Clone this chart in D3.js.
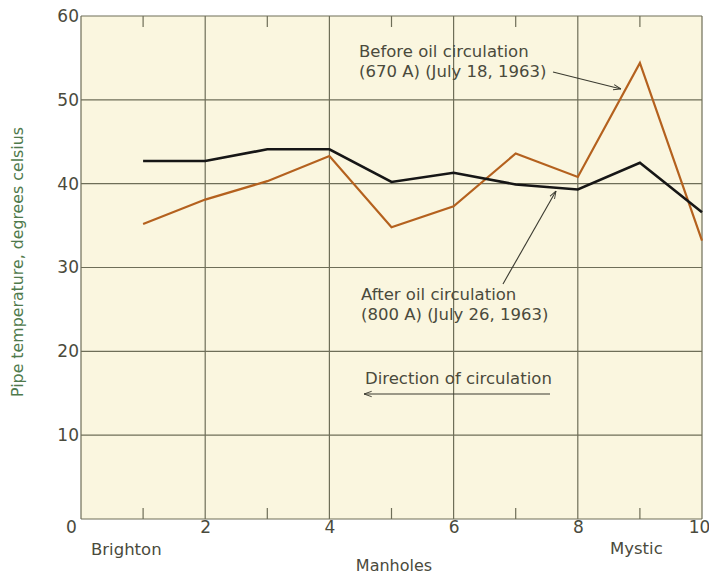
<!DOCTYPE html>
<meta charset="utf-8">
<style>
    body { margin: 0; background: #fff; }
    text { font-family: "DejaVu Sans", sans-serif; fill: #4a4a3c; }
    .grid line { stroke: #6e6e58; stroke-width: 1.2px; }
    .axis .domain { display: none; }
    .note { font-size: 16.5px; }
</style>
<svg width="709" height="575"></svg>
<script src="https://d3js.org/d3.v7.min.js"></script>
<script>

    // manhole number along the cable
    var manholes = [1, 2, 3, 4, 5, 6, 7, 8, 9, 10];
    // before oil circulation (670 A, July 18 1963)
    var before = [35.2, 38.1, 40.3, 43.3, 34.8, 37.3, 43.6, 40.8, 54.4, 33.2];
    // after oil circulation (800 A, July 26 1963)
    var after = [42.7, 42.7, 44.1, 44.1, 40.2, 41.3, 39.9, 39.3, 42.5, 36.6];
    var xTicks = [0, 2, 4, 6, 8, 10];
    var minorTicks = [1, 3, 5, 7, 9];
    var yTicks = [0, 10, 20, 30, 40, 50, 60];

    var svg = d3.select("svg");
    var pL = 81, pR = 702, pT = 16, pB = 519;

    var x = d3.scaleLinear().domain([0, 10]).range([pL, pR]);
    var y = d3.scaleLinear().domain([0, 60]).range([pB, pT]);

    svg.append("rect")
        .attr("x", pL).attr("y", pT)
        .attr("width", pR - pL).attr("height", pB - pT)
        .attr("fill", "#faf6df");

    var grid = svg.append("g").attr("class", "grid");
    grid.selectAll("line.v")
        .data(xTicks)
        .enter().append("line")
        .attr("x1", function (d) { return x(d); })
        .attr("x2", function (d) { return x(d); })
        .attr("y1", pT).attr("y2", pB);
    grid.selectAll("line.h")
        .data(yTicks)
        .enter().append("line")
        .attr("y1", function (d) { return y(d); })
        .attr("y2", function (d) { return y(d); })
        .attr("x1", pL).attr("x2", pR);

    // short marks at odd manholes, top and bottom
    grid.selectAll("line.mb")
        .data(minorTicks)
        .enter().append("line")
        .attr("x1", function (d) { return x(d); })
        .attr("x2", function (d) { return x(d); })
        .attr("y1", pB - 11).attr("y2", pB);
    grid.selectAll("line.mt")
        .data(minorTicks)
        .enter().append("line")
        .attr("x1", function (d) { return x(d); })
        .attr("x2", function (d) { return x(d); })
        .attr("y1", pT).attr("y2", pT + 11);

    var xAxis = svg.append("g")
        .attr("class", "axis")
        .attr("transform", "translate(0," + pB + ")")
        .call(d3.axisBottom(x).tickValues(xTicks).tickSize(0).tickPadding(2));
    xAxis.selectAll("text")
        .style("font-size", "17px")
        .attr("fill", "#4a4a3c")
        .attr("dx", function (d) { return d === 0 ? "-10px" : d === 10 ? "-3px" : 0; });

    var yAxis = svg.append("g")
        .attr("class", "axis")
        .attr("transform", "translate(" + pL + ",0)")
        .call(d3.axisLeft(y).tickValues(yTicks).tickSize(0).tickPadding(2));
    yAxis.selectAll("text")
        .style("font-size", "17px")
        .attr("fill", "#4a4a3c");
    yAxis.selectAll(".tick").filter(function (d) { return d === 0; }).remove();

    var line = d3.line()
        .x(function (d) { return x(d[0]); })
        .y(function (d) { return y(d[1]); });

    svg.append("path")
        .datum(d3.zip(manholes, before))
        .attr("fill", "none")
        .attr("stroke", "#b4611e")
        .attr("stroke-width", 2.2)
        .attr("d", line);

    svg.append("path")
        .datum(d3.zip(manholes, after))
        .attr("fill", "none")
        .attr("stroke", "#161616")
        .attr("stroke-width", 2.6)
        .attr("d", line);

    svg.append("defs").append("marker")
        .attr("id", "head")
        .attr("viewBox", "0 -5 10 10")
        .attr("refX", 10).attr("refY", 0)
        .attr("markerWidth", 7).attr("markerHeight", 7)
        .attr("orient", "auto")
        .append("path")
        .attr("d", "M0,-3.5L10,0L0,3.5")
        .attr("fill", "none")
        .attr("stroke", "#3a3a30")
        .attr("stroke-width", 1.2);

    function arrow(x1, y1, x2, y2) {
        svg.append("line")
            .attr("x1", x1).attr("y1", y1)
            .attr("x2", x2).attr("y2", y2)
            .attr("stroke", "#3a3a30")
            .attr("stroke-width", 1.1)
            .attr("marker-end", "url(#head)");
    }

    function note(tx, ty, lines) {
        var t = svg.append("text").attr("class", "note")
            .attr("x", tx).attr("y", ty);
        lines.forEach(function (s, i) {
            t.append("tspan").attr("x", tx).attr("dy", i ? 20 : 0).text(s);
        });
    }

    note(359, 57, ["Before oil circulation", "(670 A) (July 18, 1963)"]);
    arrow(553, 72, 621, 89);

    note(361, 300, ["After oil circulation", "(800 A) (July 26, 1963)"]);
    arrow(503, 284, 556, 191);

    note(365, 384, ["Direction of circulation"]);
    arrow(550, 394, 364, 394);

    svg.append("text")
        .attr("x", 91).attr("y", 555)
        .style("font-size", "16.5px")
        .text("Brighton");
    svg.append("text")
        .attr("x", 610).attr("y", 554)
        .style("font-size", "16.5px")
        .text("Mystic");
    svg.append("text")
        .attr("x", 394).attr("y", 571)
        .attr("text-anchor", "middle")
        .style("font-size", "16px")
        .text("Manholes");
    svg.append("text")
        .attr("transform", "translate(23," + 262 + ") rotate(-90)")
        .attr("text-anchor", "middle")
        .style("font-size", "15.8px")
        .style("fill", "#4f7a4c")
        .text("Pipe temperature, degrees celsius");

</script>
